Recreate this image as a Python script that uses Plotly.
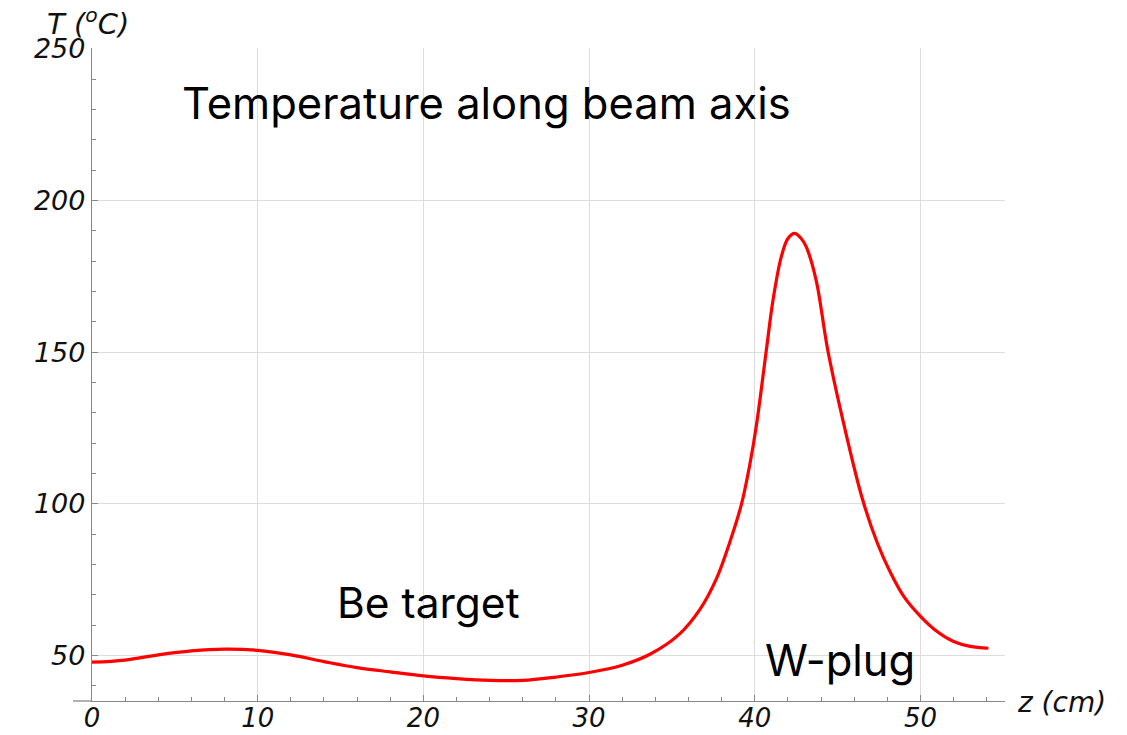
import plotly.graph_objects as go

# Data
z_cm = [0, 2, 4, 6, 8, 10, 12, 14, 16, 18, 20, 22, 24, 26, 28, 30, 32, 33.7, 35.4, 36.7,
        37.7, 38.5, 39.2, 39.7, 40.1, 40.7, 41.1, 41.6, 42.0, 42.4, 42.8, 43.1, 43.7, 44.4,
        45.4, 46.5, 47.4, 48.2, 49.0, 50.0, 51.0, 52.0, 53.0, 54.1]
temp_c = [47.8, 48.5, 50.2, 51.5, 52.1, 51.7, 50.2, 48.0, 46.0, 44.6, 43.3, 42.4, 41.8, 41.8,
          42.9, 44.4, 46.8, 50.5, 56.8, 65.3, 75.5, 87.5, 100.0, 113.0, 126.0, 150.8, 167.2,
          181.5, 187.5, 189.2, 187.5, 184.8, 173.8, 150.8, 125.6, 101.5, 87.0, 77.2, 69.4,
          62.9, 57.9, 54.6, 53.0, 52.4]

x_ticks = [0, 10, 20, 30, 40, 50]
y_ticks = [50, 100, 150, 200, 250]

tick_font = dict(family="DejaVu Sans", size=27, color="#111111", style="italic")
xtick_font = dict(family="DejaVu Sans", size=26, color="#111111", style="italic")
text_font = dict(family="Inter", color="black")

fig = go.Figure()
fig.add_trace(go.Scatter(x=z_cm, y=temp_c, mode="lines",
                         line=dict(color="#ff0000", width=3.2, shape="spline", smoothing=1.0),
                         hoverinfo="skip", showlegend=False))

fig.update_layout(
    width=1127, height=735,
    margin=dict(l=92, r=122, t=48, b=34),
    paper_bgcolor="white", plot_bgcolor="white",
    xaxis=dict(range=[0, 55.1], tickvals=x_ticks, ticks="inside", ticklen=6, tickcolor="#888888",
               showgrid=True, gridcolor="#dcdcdc", gridwidth=1, showline=True, linecolor="#888888",
               linewidth=1.3, zeroline=False, tickfont=xtick_font, automargin=False,
               ticklabelstandoff=-6,
               minor=dict(dtick=2, ticks="inside", ticklen=4, tickcolor="#888888", showgrid=False)),
    yaxis=dict(range=[35, 250.3], tickvals=y_ticks, ticks="inside", ticklen=6, tickcolor="#888888",
               showgrid=True, gridcolor="#dcdcdc", gridwidth=1, showline=True, linecolor="#888888",
               linewidth=1.3, zeroline=False, tickfont=tick_font, automargin=False,
               minor=dict(dtick=10, ticks="inside", ticklen=4, tickcolor="#888888", showgrid=False)),
)

# x-axis line extension to the left of the vertical axis
fig.add_shape(type="line", xref="paper", yref="paper", x0=-19 / 913, x1=0, y0=0, y1=0,
              line=dict(color="#888888", width=1.3))

fig.add_annotation(text="Temperature along beam axis", x=5.31, y=232.2, xref="x", yref="y",
                   xanchor="left", yanchor="middle", showarrow=False,
                   font=dict(size=43.5, **text_font))
fig.add_annotation(text="Be target", x=14.66, y=67.4, xref="x", yref="y",
                   xanchor="left", yanchor="middle", showarrow=False,
                   font=dict(size=42.5, **text_font))
fig.add_annotation(text="W-plug", x=40.5, y=48.6, xref="x", yref="y",
                   xanchor="left", yanchor="middle", showarrow=False,
                   font=dict(size=43.5, **text_font))

# axis titles
fig.add_annotation(text="T (<sup>o</sup>C)", x=-0.0515, y=1.04, xref="paper", yref="paper",
                   xanchor="left", yanchor="middle", showarrow=False,
                   font=dict(family="DejaVu Sans", size=29, color="#111111", style="italic"))
fig.add_annotation(text="z (cm)", x=1.011, y=-0.003, xref="paper", yref="paper",
                   xanchor="left", yanchor="middle", showarrow=False,
                   font=dict(family="DejaVu Sans", size=28, color="#111111", style="italic"))

fig.write_html("out.html")
